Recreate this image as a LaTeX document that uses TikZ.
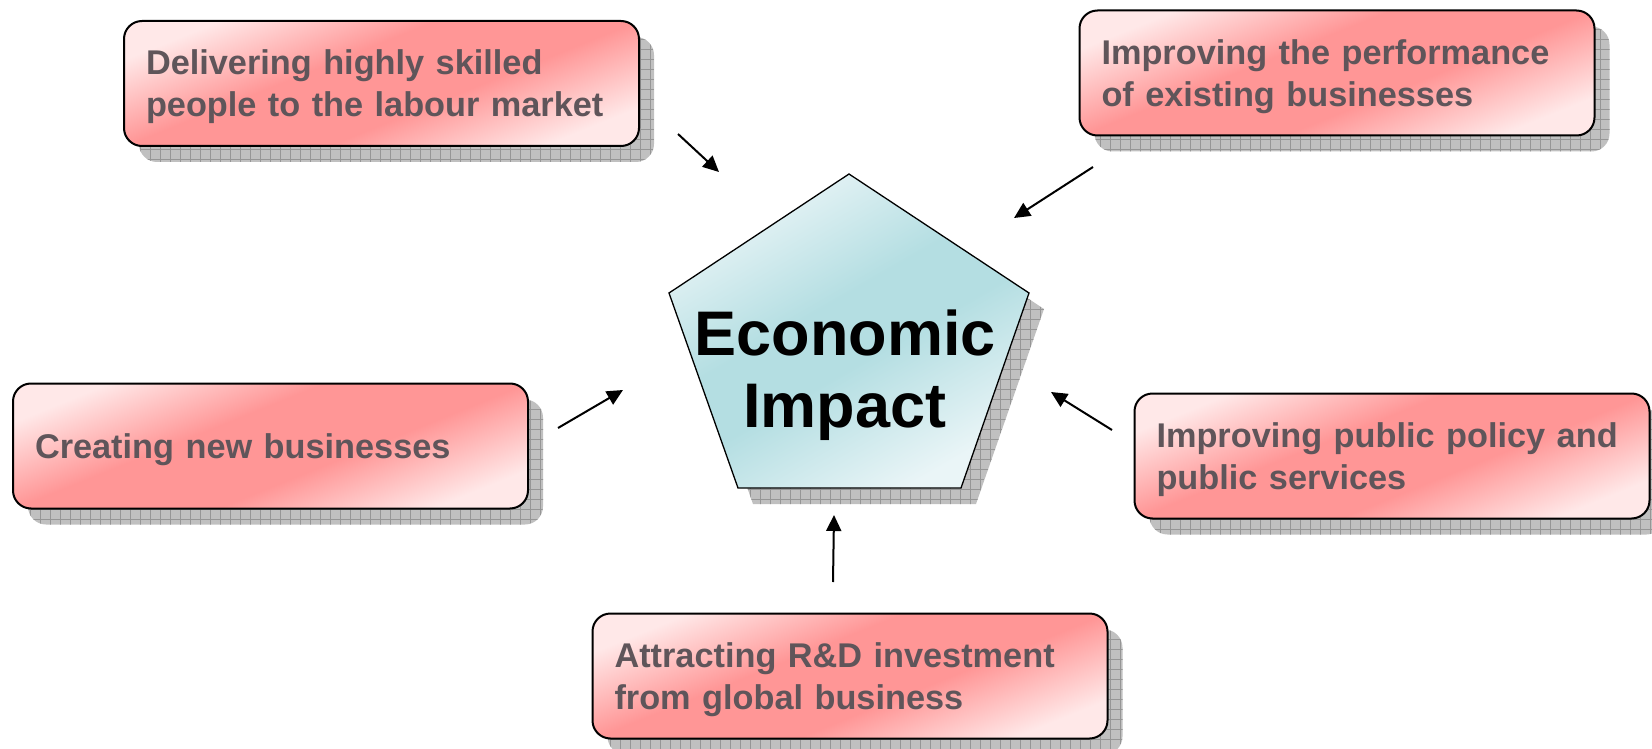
\documentclass[tikz,border=0pt]{standalone}
\usepackage{fontspec}
\setmainfont{Liberation Sans}
\usepackage{tikz}
\usetikzlibrary{arrows.meta,patterns.meta,shadows,positioning}
\usepackage{xcolor}

\definecolor{boxtext}{RGB}{95,85,90}
\definecolor{pinklight}{RGB}{255,232,232}
\definecolor{pinkdark}{RGB}{255,150,150}
\definecolor{cyanlight}{RGB}{234,245,247}
\definecolor{cyandark}{RGB}{180,222,226}
\definecolor{shadowgray}{RGB}{192,192,192}
\definecolor{gridgray}{RGB}{150,150,150}

\pgfdeclarehorizontalshading{pinkband}{100bp}{color(0bp)=(pinklight); color(25bp)=(pinklight); color(42bp)=(pinkdark); color(58bp)=(pinkdark); color(75bp)=(pinklight); color(100bp)=(pinklight)}
\pgfdeclarehorizontalshading{cyanband}{100bp}{color(0bp)=(cyanlight); color(25bp)=(cyanlight); color(45bp)=(cyandark); color(55bp)=(cyandark); color(75bp)=(cyanlight); color(100bp)=(cyanlight)}

\begin{document}
\begin{tikzpicture} [
        x = 1pt, y = -1pt,
        gridshadow/.style = {drop shadow={shadow xshift=15pt,shadow yshift=-16pt,opacity=1,fill=shadowgray,
            postaction={pattern={Hatch[distance=10pt,line width=0.6pt]},pattern color=gridgray}}},
        box/.style = { draw, line width = 2pt, rounded corners = 18pt, shade, shading = pinkband, shading angle = -68,
            gridshadow, minimum width = 515pt, minimum height = 125pt, text width = 471pt, inner xsep = 22pt,
            align = left, text = boxtext, font = \bfseries\fontsize{34.3}{42}\selectfont,
            execute at begin node = {\rule{0pt}{32pt}} },
        penta/.style = { draw, line width = 1.3pt, shade, shading = cyanband, shading angle = -60, gridshadow },
        link/.style = { line width = 2pt, -{Triangle[length = 16pt, width = 15pt]} }
        ]

        \useasboundingbox (0,0) rectangle (1652,749);

        % centre pentagon
        \coordinate (ptop) at (849,174);
        \coordinate (pur) at (1029,293);
        \coordinate (plr) at (961,488);
        \coordinate (pll) at (738,488);
        \coordinate (pul) at (669,293);
        \draw [penta] (ptop) -- (pur) -- (plr) -- (pll) -- (pul) -- cycle;
        \node [align = center, font = \bfseries\fontsize{63}{72}\selectfont] (eco) at (845,375) {Economic\\Impact};

        % surrounding boxes
        \node [box] (skills) at (381.5,83.5) {Delivering highly skilled\\people to the labour market};
        \node [box] (perform) at (1337,73) {Improving the performance\\of existing businesses};
        \node [box] (newbiz) at (270.5,446) {Creating new businesses};
        \node [box] (policy) at (1392,456) {Improving public policy and\\public services};
        \node [box] (rnd) at (850,676) {Attracting R\&D investment\\from global business};

        % arrows into the pentagon
        \coordinate (skills-from) at (678,134);  \coordinate (skills-to) at (719,172);
        \coordinate (perform-from) at (1093,167); \coordinate (perform-to) at (1014,218);
        \coordinate (newbiz-from) at (558,428);  \coordinate (newbiz-to) at (623,390);
        \coordinate (policy-from) at (1112,430); \coordinate (policy-to) at (1051,392);
        \coordinate (rnd-from) at (833,582);     \coordinate (rnd-to) at (834,515);
        \draw [link] (skills-from) -- (skills-to);
        \draw [link] (perform-from) -- (perform-to);
        \draw [link] (newbiz-from) -- (newbiz-to);
        \draw [link] (policy-from) -- (policy-to);
        \draw [link] (rnd-from) -- (rnd-to);
    \end{tikzpicture}
\end{document}
